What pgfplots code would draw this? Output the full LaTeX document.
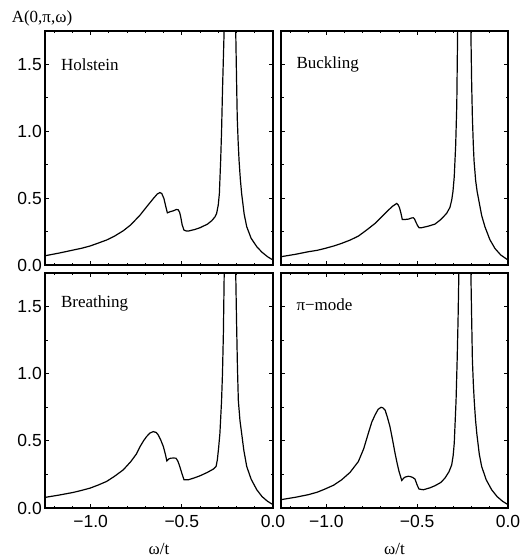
\documentclass[border=0pt]{standalone}
\usepackage{fontspec}
\setmainfont{Liberation Serif}
\newfontfamily\sansf{Liberation Sans}
\usepackage{pgfplots}
\pgfplotsset{compat=1.18}

\pgfplotsset{
  panel/.style={
    scale only axis,
    anchor=south west,
    xmin=-1.25, xmax=0, ymin=0, ymax=1.75,
    xtick={-1,-0.5,0}, ytick={0,0.5,1,1.5},
    minor xtick={-1.2,-1.1,-0.9,-0.8,-0.7,-0.6,-0.4,-0.3,-0.2,-0.1},
    minor ytick={0.25,0.75,1.25},
    tick pos=both, tick align=inside,
    major tick length=4pt, minor tick length=2.5pt,
    every tick/.style={black, line width=0.9pt},
    axis line style={line width=1.2pt},
    tick label style={font=\sansf\fontsize{17.5}{17.5}\selectfont},
    yticklabel style={inner sep=0pt, xshift=-3pt},
    xticklabel style={inner sep=0pt, yshift=-7pt},
    xlabel style={at={(axis description cs:0.5,0)}, anchor=center, yshift=-41pt, font=\fontsize{17}{17}\selectfont},
  },
  curve/.style={black, line width=1.2pt, mark=none},
  noxl/.style={xticklabels={}},
  noyl/.style={yticklabels={}},
  xl/.style={xticklabels={−1.0,−0.5,0.0}, xlabel={ω/t}},
  yl/.style={yticklabels={0.0,0.5,1.0,1.5}},
}

\begin{document}
\begin{tikzpicture}
\useasboundingbox (0pt,0pt) rectangle (520pt,558pt);

% Holstein
\begin{axis}[panel, noxl, yl, at={(45pt,293pt)}, width=228pt, height=234pt]
\addplot[curve] coordinates {
(-1.25,0.069) (-1.17,0.09) (-1.095,0.112) (-1.05,0.125) (-1.003,0.142) (-0.96,0.163)
(-0.912,0.187) (-0.87,0.215) (-0.821,0.256) (-0.78,0.30) (-0.729,0.373) (-0.69,0.44)
(-0.656,0.497) (-0.635,0.53) (-0.620,0.542) (-0.610,0.535) (-0.598,0.497) (-0.59,0.45)
(-0.579,0.39) (-0.565,0.398) (-0.547,0.405) (-0.53,0.415) (-0.52,0.413) (-0.512,0.395)
(-0.506,0.36) (-0.498,0.30) (-0.488,0.261) (-0.475,0.254) (-0.464,0.254) (-0.43,0.265)
(-0.40,0.279) (-0.36,0.305) (-0.336,0.331) (-0.318,0.36) (-0.309,0.386) (-0.30,0.45)
(-0.294,0.535) (-0.287,0.78) (-0.282,1.0) (-0.277,1.3) (-0.272,1.55) (-0.267,1.8) (-0.256,4) (-0.246,15)
(-0.236,40) (-0.226,15) (-0.216,4) (-0.205,1.8) (-0.2,1.4) (-0.196,1.1) (-0.191,0.92) (-0.186,0.78)
(-0.179,0.64) (-0.172,0.535) (-0.158,0.38) (-0.144,0.286) (-0.12,0.2) (-0.089,0.137) (-0.06,0.095)
(-0.03,0.062) (0,0.037)
};
\node[anchor=west, font=\fontsize{17}{17}\selectfont] at (axis description cs:0.055,0.855) {Holstein};
\end{axis}

% Buckling
\begin{axis}[panel, noxl, noyl, at={(281pt,293pt)}, width=227pt, height=234pt]
\addplot[curve] coordinates {
(-1.25,0.062) (-1.17,0.08) (-1.10,0.099) (-1.05,0.11) (-1.008,0.124) (-0.96,0.142)
(-0.916,0.162) (-0.87,0.186) (-0.824,0.216) (-0.78,0.26) (-0.732,0.311) (-0.70,0.355)
(-0.659,0.41) (-0.635,0.44) (-0.613,0.46) (-0.605,0.45) (-0.598,0.43) (-0.59,0.39)
(-0.582,0.34) (-0.57,0.34) (-0.549,0.343) (-0.53,0.352) (-0.521,0.353) (-0.515,0.345)
(-0.508,0.323) (-0.498,0.295) (-0.49,0.279) (-0.475,0.279) (-0.44,0.29) (-0.402,0.306)
(-0.37,0.34) (-0.338,0.386) (-0.32,0.43) (-0.31,0.485) (-0.303,0.55) (-0.296,0.66)
(-0.288,0.9) (-0.282,1.2) (-0.277,1.8) (-0.266,4) (-0.254,15) (-0.241,40) (-0.228,15)
(-0.216,4) (-0.205,1.8) (-0.2,1.35) (-0.196,1.1) (-0.191,0.9) (-0.187,0.78) (-0.178,0.63) (-0.17,0.55)
(-0.145,0.37) (-0.127,0.286) (-0.10,0.19) (-0.072,0.124) (-0.04,0.075) (0,0.037)
};
\node[anchor=west, font=\fontsize{17}{17}\selectfont] at (axis description cs:0.053,0.855) {Buckling};
\end{axis}

% Breathing
\begin{axis}[panel, xl, yl, at={(45pt,50pt)}, width=228pt, height=235pt]
\addplot[curve] coordinates {
(-1.25,0.079) (-1.17,0.097) (-1.095,0.116) (-1.05,0.131) (-1.003,0.148) (-0.96,0.17)
(-0.912,0.198) (-0.87,0.235) (-0.821,0.284) (-0.78,0.345) (-0.75,0.40) (-0.729,0.457)
(-0.71,0.50) (-0.693,0.532) (-0.675,0.558) (-0.656,0.569) (-0.64,0.562) (-0.629,0.544)
(-0.615,0.505) (-0.601,0.457) (-0.59,0.40) (-0.582,0.351) (-0.572,0.365) (-0.561,0.371)
(-0.545,0.372) (-0.532,0.371) (-0.522,0.35) (-0.514,0.321) (-0.50,0.26) (-0.488,0.21)
(-0.464,0.21) (-0.43,0.225) (-0.40,0.24) (-0.36,0.265) (-0.327,0.29) (-0.312,0.31)
(-0.305,0.36) (-0.298,0.45) (-0.291,0.557) (-0.282,0.80) (-0.277,1.0) (-0.272,1.3) (-0.267,1.8)
(-0.256,4) (-0.246,15) (-0.236,40) (-0.226,15) (-0.216,4) (-0.205,1.8) (-0.2,1.4)
(-0.195,1.05) (-0.19,0.80) (-0.181,0.65) (-0.172,0.557) (-0.16,0.43) (-0.144,0.309)
(-0.12,0.215) (-0.089,0.136) (-0.06,0.085) (-0.03,0.05) (0,0.025)
};
\node[anchor=west, font=\fontsize{17}{17}\selectfont] at (axis description cs:0.055,0.872) {Breathing};
\end{axis}

% pi-mode
\begin{axis}[panel, xl, noyl, at={(281pt,50pt)}, width=227pt, height=235pt]
\addplot[curve] coordinates {
(-1.25,0.062) (-1.17,0.08) (-1.10,0.099) (-1.05,0.118) (-1.008,0.141) (-0.96,0.17)
(-0.916,0.21) (-0.87,0.265) (-0.824,0.346) (-0.795,0.44) (-0.769,0.557) (-0.75,0.64)
(-0.732,0.693) (-0.715,0.735) (-0.699,0.75) (-0.688,0.745) (-0.677,0.73) (-0.665,0.68)
(-0.65,0.606) (-0.636,0.51) (-0.622,0.408) (-0.61,0.33) (-0.60,0.272) (-0.585,0.205)
(-0.575,0.222) (-0.567,0.23) (-0.55,0.236) (-0.54,0.235) (-0.525,0.228) (-0.512,0.215)
(-0.50,0.17) (-0.49,0.141) (-0.466,0.136) (-0.43,0.15) (-0.402,0.166) (-0.37,0.19)
(-0.347,0.223) (-0.325,0.27) (-0.31,0.321) (-0.302,0.39) (-0.296,0.482) (-0.286,0.80)
(-0.28,1.1) (-0.275,1.4) (-0.27,1.8) (-0.258,4.5) (-0.248,15) (-0.238,40) (-0.228,15) (-0.216,4)
(-0.205,1.8) (-0.2,1.4) (-0.196,1.1) (-0.191,0.93) (-0.186,0.80) (-0.179,0.66) (-0.172,0.557) (-0.158,0.40) (-0.145,0.309)
(-0.12,0.21) (-0.09,0.136) (-0.06,0.085) (-0.03,0.05) (0,0.025)
};
\node[anchor=west, font=\fontsize{17}{17}\selectfont] at (axis description cs:0.053,0.864) {π−mode};
\end{axis}

\node[font=\fontsize{17}{17}\selectfont] at (42pt,540pt) {A(0,π,ω)};
\end{tikzpicture}
\end{document}
